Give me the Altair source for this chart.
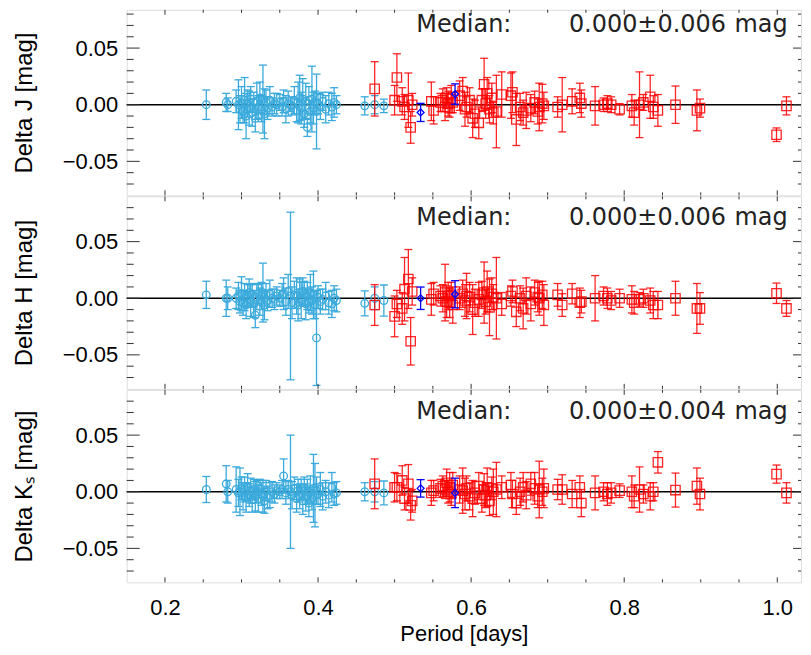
import altair as alt
import pandas as pd

# ---------------- data ----------------
# light-blue open circles
P_c = [0.254, 0.280, 0.282, 0.293, 0.296, 0.298, 0.300, 0.302, 0.304, 0.306,
       0.308, 0.310, 0.312, 0.314, 0.316, 0.318, 0.320, 0.322, 0.324, 0.326,
       0.328, 0.330, 0.332, 0.334, 0.337, 0.340, 0.343, 0.346, 0.350, 0.353,
       0.355, 0.358, 0.361, 0.364, 0.366, 0.369, 0.372, 0.374, 0.376, 0.378,
       0.380, 0.382, 0.384, 0.386, 0.388, 0.390, 0.392, 0.394, 0.396, 0.398,
       0.400, 0.403, 0.406, 0.410, 0.414, 0.418, 0.421, 0.424, 0.461, 0.474,
       0.486]
J_c = [0.000, 0.002, 0.000, 0.003, 0.000, -0.004, 0.002, -0.006, 0.004, -0.010,
       0.001, -0.003, 0.005, -0.007, 0.002, -0.012, 0.003, -0.002, 0.006, -0.004,
       0.005, -0.008, 0.002, -0.003, 0.004, -0.002, 0.001, 0.000, 0.002, -0.002,
       0.003, -0.004, 0.001, 0.000, -0.001, 0.004, -0.005, 0.002, 0.006, -0.003,
       0.005, -0.008, 0.003, -0.020, 0.004, -0.006, 0.005, -0.003, 0.002, -0.006,
       0.001, -0.002, 0.003, -0.004, 0.001, -0.002, 0.002, 0.000, -0.001, 0.000,
       -0.001]
eJ_c = [0.013, 0.008, 0.006, 0.010, 0.022, 0.012, 0.014, 0.010, 0.020, 0.020,
        0.012, 0.015, 0.011, 0.012, 0.009, 0.012, 0.016, 0.010, 0.014, 0.011,
        0.030, 0.022, 0.011, 0.010, 0.012, 0.008, 0.009, 0.010, 0.007, 0.008,
        0.010, 0.012, 0.011, 0.006, 0.008, 0.012, 0.010, 0.018, 0.020, 0.014,
        0.018, 0.012, 0.016, 0.008, 0.012, 0.010, 0.029, 0.014, 0.010, 0.033,
        0.009, 0.011, 0.008, 0.012, 0.010, 0.012, 0.013, 0.008, 0.008, 0.008,
        0.006]
H_c = [0.003, 0.000, 0.000, 0.000, 0.002, -0.003, 0.004, -0.004, 0.001, -0.006,
       0.002, 0.005, -0.002, 0.003, -0.005, -0.015, 0.001, 0.004, -0.003, 0.002,
       0.005, -0.006, 0.003, -0.002, 0.004, 0.000, -0.001, 0.002, 0.000, 0.003,
       0.004, -0.003, 0.006, 0.002, -0.004, 0.003, 0.002, -0.006, 0.005, -0.002,
       0.006, 0.004, -0.005, 0.002, -0.003, 0.005, -0.002, 0.003, -0.006, -0.035,
       0.001, -0.003, -0.001, 0.002, -0.004, -0.005, 0.000, -0.002, -0.0045, 0.000,
       -0.002]
eH_c = [0.012, 0.016, 0.010, 0.009, 0.012, 0.010, 0.015, 0.011, 0.012, 0.012,
        0.010, 0.012, 0.014, 0.010, 0.012, 0.011, 0.011, 0.009, 0.012, 0.012,
        0.026, 0.013, 0.010, 0.009, 0.012, 0.008, 0.009, 0.008, 0.007, 0.010,
        0.014, 0.012, 0.015, 0.074, 0.014, 0.012, 0.016, 0.014, 0.012, 0.016,
        0.012, 0.011, 0.014, 0.012, 0.010, 0.016, 0.012, 0.021, 0.012, 0.042,
        0.010, 0.011, 0.009, 0.012, 0.010, 0.012, 0.011, 0.010, 0.011, 0.010,
        0.0137]
K_c = [0.002, 0.007, 0.000, 0.002, -0.001, 0.000, 0.003, -0.004, 0.002, -0.005,
       0.004, -0.003, 0.001, -0.007, 0.002, -0.004, 0.000, -0.006, 0.003, -0.002,
       -0.004, -0.008, 0.001, -0.005, -0.003, 0.000, -0.002, 0.001, 0.000, 0.002,
       0.014, -0.001, 0.002, 0.000, -0.003, 0.003, -0.006, 0.001, -0.004, 0.002,
       -0.008, 0.003, -0.005, 0.000, -0.010, 0.002, -0.006, 0.003, -0.003, 0.001,
       -0.002, 0.002, -0.004, 0.000, -0.003, 0.004, -0.002, -0.001, 0.000, 0.000,
       -0.001]
eK_c = [0.0115, 0.016, 0.010, 0.020, 0.012, 0.021, 0.010, 0.012, 0.011, 0.013,
        0.012, 0.010, 0.011, 0.011, 0.009, 0.013, 0.010, 0.012, 0.008, 0.010,
        0.014, 0.011, 0.009, 0.010, 0.011, 0.009, 0.008, 0.007, 0.006, 0.008,
        0.015, 0.010, 0.008, 0.050, 0.012, 0.010, 0.012, 0.010, 0.011, 0.009,
        0.012, 0.010, 0.012, 0.011, 0.012, 0.012, 0.010, 0.030, 0.028, 0.012,
        0.009, 0.015, 0.012, 0.010, 0.011, 0.013, 0.010, 0.010, 0.008, 0.009,
        0.0105]

# red open squares
P_s = [0.474, 0.500, 0.503, 0.510, 0.513, 0.518, 0.521, 0.523, 0.548, 0.551,
       0.560, 0.563, 0.566, 0.568, 0.570, 0.572, 0.574, 0.576, 0.585, 0.589,
       0.592, 0.594, 0.598, 0.602, 0.605, 0.610, 0.614, 0.617, 0.619, 0.621,
       0.624, 0.627, 0.629, 0.633, 0.640, 0.652, 0.654, 0.659, 0.664, 0.668,
       0.672, 0.678, 0.683, 0.687, 0.689, 0.693, 0.695, 0.713, 0.719, 0.732,
       0.742, 0.744, 0.762, 0.773, 0.778, 0.783, 0.794, 0.810, 0.813, 0.820,
       0.825, 0.834, 0.838, 0.844, 0.867, 0.895, 0.899, 0.999, 1.012]
J_s = [0.014, 0.004, 0.024, 0.003, -0.002, 0.004, -0.020, 0.000, 0.003, -0.005,
       0.002, 0.004, -0.002, 0.006, 0.001, -0.003, 0.005, 0.002, 0.008, 0.012,
       -0.004, -0.002, 0.004, -0.012, -0.008, -0.016, 0.004, 0.018, 0.001, 0.010,
       -0.004, 0.006, -0.007, -0.006, 0.009, 0.008, 0.011, -0.013, -0.002, -0.007,
       -0.005, -0.003, 0.002, -0.006, -0.002, 0.001, -0.001, -0.002, 0.000, 0.003,
       0.006, 0.001, -0.001, 0.000, 0.001, 0.000, -0.004, -0.001, -0.007, 0.000,
       0.002, 0.007, -0.002, -0.005, 0.000, -0.005, -0.003, -0.0265, -0.001]
eJ_s = [0.024, 0.013, 0.021, 0.012, 0.011, 0.024, 0.014, 0.010, 0.017, 0.012,
        0.008, 0.010, 0.012, 0.009, 0.011, 0.008, 0.012, 0.009, 0.013, 0.012,
        0.015, 0.009, 0.011, 0.017, 0.012, 0.014, 0.010, 0.023, 0.013, 0.014,
        0.012, 0.013, 0.010, 0.032, 0.020, 0.020, 0.018, 0.023, 0.012, 0.011,
        0.016, 0.012, 0.010, 0.011, 0.021, 0.017, 0.012, 0.009, 0.024, 0.011,
        0.013, 0.012, 0.017, 0.006, 0.007, 0.007, 0.005, 0.010, 0.011, 0.029,
        0.007, 0.019, 0.010, 0.014, 0.0165, 0.018, 0.008, 0.006, 0.008]
H_s = [-0.006, -0.016, -0.005, -0.009, 0.008, 0.017, -0.038, 0.006, -0.001, 0.004,
       0.002, 0.000, 0.005, -0.003, 0.002, -0.004, 0.003, -0.006, 0.000, 0.004,
       -0.002, 0.002, 0.001, -0.010, -0.004, -0.001, 0.003, 0.005, -0.003, 0.006,
       -0.008, 0.004, 0.001, 0.000, -0.005, 0.002, 0.006, -0.012, 0.000, -0.009,
       0.002, -0.005, 0.005, 0.001, 0.000, 0.003, -0.006, 0.003, -0.006, 0.004,
       -0.004, -0.003, 0.000, 0.002, 0.000, -0.002, 0.000, -0.001, -0.004, -0.001,
       0.000, -0.002, -0.006, -0.006, 0.000, -0.009, -0.009, 0.0044, -0.009]
eH_s = [0.018, 0.018, 0.012, 0.014, 0.028, 0.026, 0.021, 0.012, 0.014, 0.010,
        0.009, 0.012, 0.025, 0.014, 0.012, 0.013, 0.011, 0.016, 0.010, 0.012,
        0.014, 0.020, 0.013, 0.022, 0.012, 0.015, 0.012, 0.027, 0.011, 0.018,
        0.025, 0.014, 0.011, 0.036, 0.010, 0.009, 0.010, 0.013, 0.011, 0.018,
        0.016, 0.015, 0.011, 0.013, 0.015, 0.012, 0.018, 0.010, 0.010, 0.009,
        0.013, 0.010, 0.020, 0.008, 0.009, 0.008, 0.008, 0.012, 0.010, 0.006,
        0.008, 0.011, 0.012, 0.012, 0.015, 0.022, 0.014, 0.009, 0.007]
K_s = [0.007, 0.004, 0.004, 0.010, -0.006, 0.007, -0.012, -0.008, -0.001, 0.001,
       0.003, 0.005, 0.002, 0.008, 0.000, 0.004, -0.002, 0.006, 0.002, 0.001,
       -0.002, 0.003, -0.004, -0.006, -0.001, 0.005, -0.006, 0.002, -0.003, 0.004,
       -0.008, 0.003, 0.000, 0.002, 0.004, 0.006, -0.002, -0.010, 0.000, 0.004,
       -0.003, 0.007, 0.003, -0.004, 0.002, 0.000, 0.003, 0.002, 0.002, -0.002,
       0.004, -0.010, -0.001, 0.000, -0.002, -0.001, 0.001, 0.000, -0.004, 0.002,
       -0.002, -0.004, 0.000, 0.026, 0.0015, 0.005, -0.002, 0.0156, -0.001]
eK_s = [0.022, 0.013, 0.012, 0.013, 0.010, 0.017, 0.013, 0.010, 0.011, 0.009,
        0.008, 0.009, 0.008, 0.012, 0.010, 0.013, 0.010, 0.011, 0.012, 0.020,
        0.014, 0.011, 0.012, 0.016, 0.010, 0.012, 0.012, 0.014, 0.011, 0.017,
        0.013, 0.010, 0.020, 0.024, 0.010, 0.011, 0.012, 0.010, 0.012, 0.013,
        0.012, 0.010, 0.014, 0.010, 0.025, 0.012, 0.017, 0.009, 0.013, 0.012,
        0.010, 0.012, 0.015, 0.008, 0.010, 0.009, 0.006, 0.014, 0.010, 0.020,
        0.008, 0.012, 0.008, 0.0095, 0.015, 0.016, 0.014, 0.008, 0.009]

# blue open diamonds
P_d = [0.534, 0.579]
J_d = [-0.0068, 0.0094]
eJ_d = [0.008, 0.009]
H_d = [0.000, 0.0035]
eH_d = [0.0099, 0.012]
K_d = [0.003, -0.001]
eK_d = [0.0077, 0.013]

# medians (label, value, unit)
median_label = "Median:"
median_values = ["0.000\u00b10.006", "0.000\u00b10.006", "0.000\u00b10.004"]
median_unit = "mag"
band_titles = ["Delta J [mag]", "Delta H [mag]", "Delta K\u209b [mag]"]

# axis ticks
x_major = [0.2, 0.4, 0.6, 0.8, 1.0]
x_minor = [0.25, 0.3, 0.35, 0.45, 0.5, 0.55, 0.65, 0.7, 0.75, 0.85, 0.9, 0.95]
y_major = [-0.05, 0.0, 0.05]
y_minor = [-0.07, -0.06, -0.04, -0.03, -0.02, -0.01, 0.01, 0.02, 0.03, 0.04,
           0.06, 0.07, 0.08]

# ---------------- chart ----------------
W = 676
PX_PER_MAG = 1135.3          # vertical scale shared by the three panels
FONT = "DejaVu Sans"
C_CYAN = "#3aaadc"
C_RED = "#ff0000"
C_BLUE = "#0000ff"
TXT = "#222222"
SW = 1.0

xscale = alt.Scale(domain=[0.15, 1.031], nice=False, zero=False)


def frame(P, v, e):
    d = pd.DataFrame({"P": P, "v": v, "e": e})
    d["lo"] = d["v"] - d["e"]
    d["hi"] = d["v"] + d["e"]
    return d


def panel(i, vals, bottom, ytop, text_y):
    H = round((ytop + 0.08) * PX_PER_MAG)
    yscale = alt.Scale(domain=[-0.08, ytop], nice=False, zero=False)
    if bottom:
        xaxis = alt.Axis(values=x_major, format=".1f", ticks=False, domain=False,
                         grid=False, labelFontSize=22, labelPadding=15,
                         title="Period [days]", titleFontSize=22,
                         titleFontWeight="normal", titlePadding=5)
    else:
        xaxis = None
    yaxis = alt.Axis(values=y_major, format=".2f", ticks=False, domain=False,
                     grid=False, labelFontSize=22, labelPadding=9,
                     title=band_titles[i], titleFontSize=24,
                     titleFontWeight="normal", titlePadding=26)

    def X(f):
        return alt.X(f, type="quantitative", scale=xscale, axis=xaxis)

    def Y(f):
        return alt.Y(f, type="quantitative", scale=yscale, axis=yaxis)

    layers = []
    groups = [(vals[0], C_CYAN, "circle", 58), (vals[1], C_RED, "square", 88),
              (vals[2], C_BLUE, "diamond", 48)]
    for d, col, shape, size in groups:
        base = alt.Chart(d)
        op = 0.85 if col == C_RED else 1.0
        layers.append(base.mark_rule(color=col, strokeWidth=1.3, opacity=op)
                      .encode(x=X("P"), y=Y("lo"), y2="hi"))
        layers.append(base.mark_tick(color=col, orient="horizontal", size=8,
                                     thickness=1.3, opacity=op)
                      .encode(x=X("P"), y=Y("lo")))
        layers.append(base.mark_tick(color=col, orient="horizontal", size=8,
                                     thickness=1.3, opacity=op)
                      .encode(x=X("P"), y=Y("hi")))
        layers.append(base.mark_point(shape=shape, filled=False, color=col,
                                      size=size, strokeWidth=1.3, opacity=op)
                      .encode(x=X("P"), y=Y("v")))

    # zero line
    zero = alt.Chart(pd.DataFrame({"z": [0.0]})).mark_rule(
        color="black", strokeWidth=1.4).encode(y=Y("z"))

    ymaj = alt.Chart(pd.DataFrame({"t": y_major}))
    ymin = alt.Chart(pd.DataFrame({"t": y_minor}))
    xmaj = alt.Chart(pd.DataFrame({"t": x_major}))
    xmin = alt.Chart(pd.DataFrame({"t": x_minor}))
    tick_col = "#333333"
    ticks = [
        ymaj.mark_rule(color=tick_col, strokeWidth=SW).encode(
            y=Y("t"), x=alt.value(0), x2=alt.value(13)),
        ymin.mark_rule(color=tick_col, strokeWidth=SW).encode(
            y=Y("t"), x=alt.value(0), x2=alt.value(7)),
        ymaj.mark_rule(color=tick_col, strokeWidth=SW).encode(
            y=Y("t"), x=alt.value(W), x2=alt.value(W - 8)),
        ymin.mark_rule(color=tick_col, strokeWidth=SW).encode(
            y=Y("t"), x=alt.value(W), x2=alt.value(W - 3)),
        xmaj.mark_rule(color=tick_col, strokeWidth=SW).encode(
            x=X("t"), y=alt.value(H), y2=alt.value(H - 5)),
        xmin.mark_rule(color=tick_col, strokeWidth=SW).encode(
            x=X("t"), y=alt.value(H), y2=alt.value(H - 3)),
        xmaj.mark_rule(color=tick_col, strokeWidth=SW).encode(
            x=X("t"), y=alt.value(0), y2=alt.value(5)),
        xmin.mark_rule(color=tick_col, strokeWidth=SW).encode(
            x=X("t"), y=alt.value(0), y2=alt.value(3)),
    ]

    tdf = pd.DataFrame({"a": [median_label], "b": [median_values[i]],
                        "c": [median_unit]})
    tbase = alt.Chart(tdf)
    tstyle = dict(align="center", baseline="alphabetic", fontSize=24, font=FONT,
                  color=TXT)
    texts = [
        tbase.mark_text(**tstyle).encode(x=alt.value(338), y=alt.value(text_y), text="a:N"),
        tbase.mark_text(**tstyle).encode(x=alt.value(522), y=alt.value(text_y), text="b:N"),
        tbase.mark_text(**tstyle).encode(x=alt.value(636), y=alt.value(text_y), text="c:N"),
    ]

    return alt.layer(zero, *layers, *ticks, *texts).properties(width=W, height=H)


pJ = panel(0, [frame(P_c, J_c, eJ_c), frame(P_s, J_s, eJ_s), frame(P_d, J_d, eJ_d)],
           False, 0.0838, 22)
pH = panel(1, [frame(P_c, H_c, eH_c), frame(P_s, H_s, eH_s), frame(P_d, H_d, eH_d)],
           False, 0.09, 29)
pK = panel(2, [frame(P_c, K_c, eK_c), frame(P_s, K_s, eK_s), frame(P_d, K_d, eK_d)],
           True, 0.09, 29)

chart = alt.vconcat(pJ, pH, pK, spacing=-2).properties(
    padding={"left": 3, "top": 0, "right": 0, "bottom": 0}
).configure_view(stroke="black", strokeWidth=SW).configure_axis(
    labelFont=FONT, titleFont=FONT, labelColor=TXT, titleColor=TXT
).configure(background="white")

chart.save("out.html", embed_options={"renderer": "svg", "actions": False})
